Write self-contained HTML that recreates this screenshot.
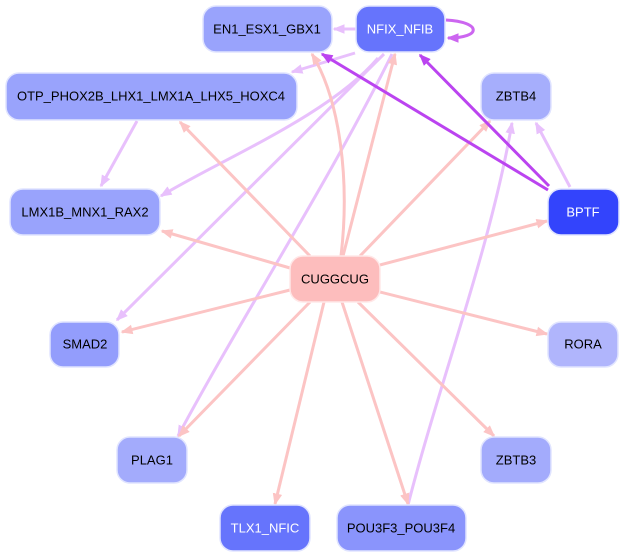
<!DOCTYPE html>
<html><head><meta charset="utf-8"><style>
html,body{margin:0;padding:0;background:#fff;}
svg{display:block;}
text{font-family:"Liberation Sans",sans-serif;font-size:13px;text-anchor:middle;dominant-baseline:central;}
</style></head><body>
<svg width="625" height="557" viewBox="0 0 625 557" xmlns="http://www.w3.org/2000/svg">
<defs>
<marker id="ap" markerWidth="4" markerHeight="4" refX="3.5" refY="2" orient="auto" markerUnits="strokeWidth"><path d="M0,0.4 L4,2 L0,3.6 Z" fill="#fcc4c4"/></marker>
<marker id="al" markerWidth="4" markerHeight="4" refX="3.5" refY="2" orient="auto" markerUnits="strokeWidth"><path d="M0,0.4 L4,2 L0,3.6 Z" fill="#e8c0fc"/></marker>
<marker id="am" markerWidth="4" markerHeight="4" refX="3.5" refY="2" orient="auto" markerUnits="strokeWidth"><path d="M0,0.4 L4,2 L0,3.6 Z" fill="#bb44f0"/></marker>
<marker id="an" markerWidth="4" markerHeight="4" refX="3.5" refY="2" orient="auto" markerUnits="strokeWidth"><path d="M0,0.4 L4,2 L0,3.6 Z" fill="#cc66f0"/></marker>
</defs>
<g fill="none" stroke-width="3">
<g stroke="#e8c0fc" marker-end="url(#al)">
<path d="M356,29 L334,29"/>
<path d="M355,53 L292,72"/>
<path d="M378,58 C330,115 220,160 161,196"/>
<path d="M384,54 L117,320"/>
<path d="M392,54 C330,180 240,320 178,436"/>
<path d="M137,121 L101,186"/>
<path d="M570,187 L536,123"/>
<path d="M408,505 C440,380 490,250 512,123"/>
</g>
<g stroke="#fcc4c4" marker-end="url(#ap)">
<path d="M341,256 C350,180 340,100 312,54"/>
<path d="M343,256 L395,54"/>
<path d="M310,256 L180,122"/>
<path d="M290,268 L162,231"/>
<path d="M360,256 L490,121"/>
<path d="M380,265 L547,221"/>
<path d="M290,290 L122,332"/>
<path d="M380,292 L547,334"/>
<path d="M310,302 L179,436"/>
<path d="M358,302 L494,436"/>
<path d="M324,302 L275,504"/>
<path d="M342,302 L408,504"/>
</g>
<g stroke="#bb44f0" marker-end="url(#am)">
<path d="M548,190 L322,54"/>
<path d="M549,186 L420,55"/>
</g>
<path d="M446,20 C482,22 482,38 448,38" stroke="#cc66f0" marker-end="url(#an)"/>
</g>
<g stroke="#e0e4ff" stroke-width="1.5">
<rect x="203" y="6" width="129" height="46" rx="13" fill="#99a3fc"/>
<rect x="356" y="6" width="89" height="46" rx="13" fill="#6674fc"/>
<rect x="6" y="73" width="291" height="47" rx="13" fill="#99a3fc"/>
<rect x="481" y="73" width="70" height="47" rx="13" fill="#a6aefc"/>
<rect x="10" y="189" width="150" height="46" rx="13" fill="#99a3fc"/>
<rect x="548" y="189" width="71" height="46" rx="13" fill="#3344fc"/>
<rect x="290" y="256" width="90" height="46" rx="13" fill="#fdbdbd" stroke="#ffe8e8"/>
<rect x="50" y="322" width="69" height="45" rx="13" fill="#939dfc"/>
<rect x="548" y="322" width="70" height="45" rx="13" fill="#b0b5fc"/>
<rect x="117" y="437" width="70" height="46" rx="13" fill="#a3abfc"/>
<rect x="481" y="437" width="70" height="46" rx="13" fill="#a3abfc"/>
<rect x="220" y="505" width="90" height="46" rx="13" fill="#6674fc"/>
<rect x="337" y="505" width="129" height="46" rx="13" fill="#8a94fc"/>
</g>
<text x="267" y="29">EN1_ESX1_GBX1</text>
<text x="400" y="29" fill="#fff">NFIX_NFIB</text>
<text x="151" y="96">OTP_PHOX2B_LHX1_LMX1A_LHX5_HOXC4</text>
<text x="516" y="96">ZBTB4</text>
<text x="85" y="212">LMX1B_MNX1_RAX2</text>
<text x="583" y="212" fill="#fff">BPTF</text>
<text x="335" y="279">CUGGCUG</text>
<text x="85" y="344">SMAD2</text>
<text x="583" y="344">RORA</text>
<text x="152" y="460">PLAG1</text>
<text x="516" y="460">ZBTB3</text>
<text x="265" y="528" fill="#fff">TLX1_NFIC</text>
<text x="401" y="528">POU3F3_POU3F4</text>
</svg>
</body></html>
